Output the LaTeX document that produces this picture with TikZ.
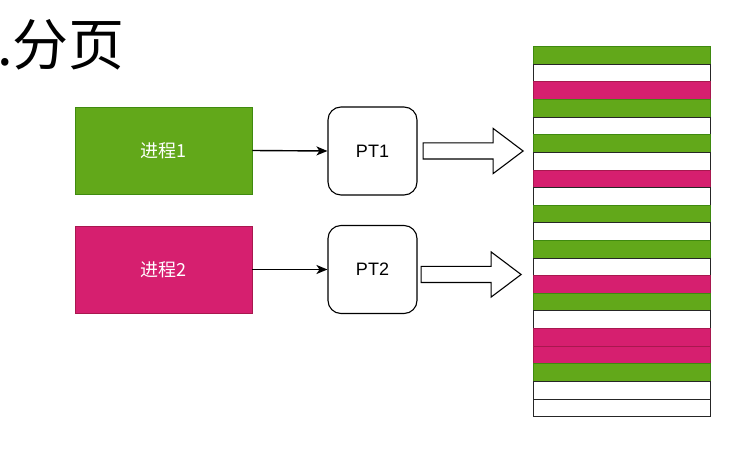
\documentclass[tikz,border=0pt]{standalone}
\usepackage{fontspec}
\setmainfont{Liberation Sans}
\newfontfamily\cjk{Noto Sans CJK SC}
\usepackage{tikz}
\usetikzlibrary{arrows.meta, positioning, shapes.arrows}
\definecolor{procGreen}{HTML}{62A81A}
\definecolor{procGreenLine}{HTML}{3F8A0F}
\definecolor{procPink}{HTML}{D61F6F}
\definecolor{procPinkLine}{HTML}{A8184F}
\colorlet{barG}{procGreen}
\colorlet{barGLine}{procGreenLine}
\colorlet{barP}{procPink}
\colorlet{barPLine}{procPinkLine}
\colorlet{barW}{white}
\colorlet{barWLine}{black!85}

\begin{document}
\begin{tikzpicture}[
    x=1pt, y=-1pt,
    proc/.style={
        rectangle,
        minimum width=177pt,
        minimum height=87pt,
        line width=0.9pt,
        text=white,
        font=\cjk\fontsize{18}{20}\selectfont
    },
    table/.style={
        rectangle,
        rounded corners=13pt,
        draw=black,
        fill=white,
        minimum width=89pt,
        minimum height=88pt,
        line width=1.1pt,
        font=\fontsize{18}{20}\selectfont
    },
    link/.style={-{Stealth[length=11pt, width=9pt, inset=3pt]}, line width=1.4pt},
    bigarrow/.style={
        single arrow,
        draw=black,
        fill=white,
        line width=1.1pt,
        minimum height=100pt,
        inner xsep=0pt,
        inner ysep=7.5pt,
        single arrow head extend=14.5pt,
        single arrow tip angle=74
    },
    bar/.style={fill=bar#1, draw=bar#1Line, line width=1pt}
]

\useasboundingbox (0,0) rectangle (756,449);

% Title
\node[anchor=base west, inner sep=0pt, font=\cjk\fontsize{56}{60}\selectfont] (title) at (-3,66) {.分页};

% Processes and their page tables
\node[proc, fill=procGreen, draw=procGreenLine] (proc1) at (163.5,150.5) {进程1};
\node[proc, fill=procPink, draw=procPinkLine] (proc2) at (163.5,269.5) {进程2};

\node[table] (pt1) at (372.5,151) {PT1};
\node[table] (pt2) at (372.5,269.5) {PT2};

\draw[link] (proc1.east) -- (pt1.west);
\draw[link] (proc2.east) -- (pt2.west);

% Wide arrows into memory
\node[bigarrow, right=5pt of pt1] (fat1) {};
\node[bigarrow, right=3pt of pt2, yshift=-5pt] (fat2) {};

% Physical memory frames
\foreach \c [count=\i from 0] in {G,W,P,G,W,G,W,P,W,G,W,G,W,P,G,W,P,P,G,W,W} {
    \draw[bar=\c] (533,46.7+17.62*\i) rectangle (710,46.7+17.62*\i+17.62);
}

\end{tikzpicture}
\end{document}
